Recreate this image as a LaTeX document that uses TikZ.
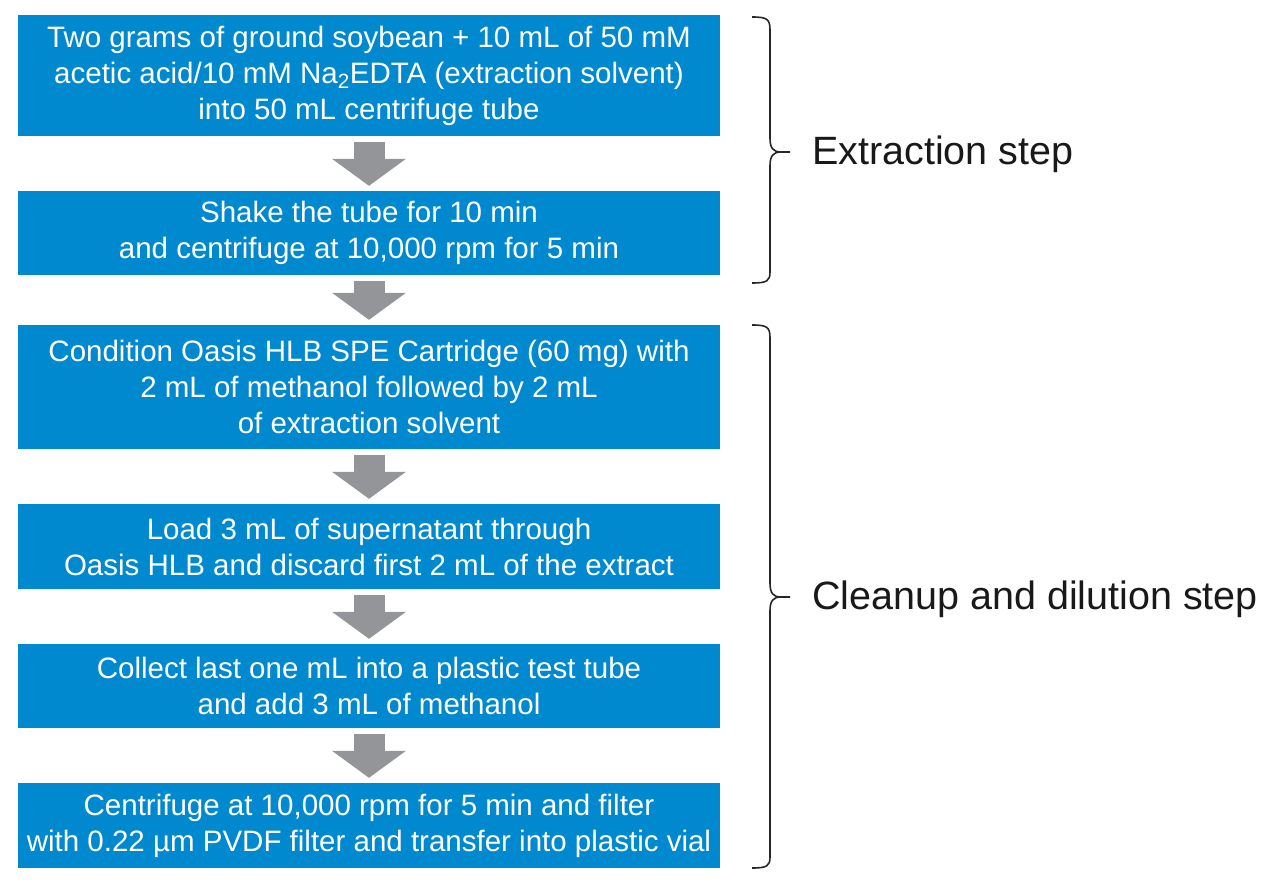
\documentclass[tikz,border=0pt]{standalone}
\usepackage{fontspec}
\setmainfont{Liberation Sans}
\usetikzlibrary{arrows.meta, positioning, calc}
\definecolor{StepBlue}{HTML}{0089CF}
\definecolor{FlowGray}{HTML}{939598}

\begin{document}
\begin{tikzpicture}[x=1pt, y=-1pt,
stepbox/.style={
	rectangle,
	fill=StepBlue,
	minimum width=702pt,
	inner sep=0pt,
	align=center,
	font=\fontsize{29.5}{36}\selectfont,
	text=white},
flow/.style={
	-{Triangle[width=74pt, length=27pt, line width=0pt]},
	line width=31pt,
	color=FlowGray,
	shorten <=6pt,
	shorten >=5pt},
group/.style={
	line width=1.6pt,
	color=black!85},
grouplabel/.style={
	anchor=west,
	inner sep=0pt,
	font=\fontsize{39.5}{44}\selectfont,
	text=black!90}]

\useasboundingbox (0,0) rectangle (1280,885);

%Steps
\node[stepbox, minimum height=121pt] (s1) at (369,75.5) {Two grams of ground soybean + 10 mL of 50 mM\\acetic acid/10 mM Na\textsubscript{2}EDTA (extraction solvent)\\into 50 mL centrifuge tube};
\node[stepbox, minimum height=84pt] (s2) at (369,233) {Shake the tube for 10 min\\and centrifuge at 10,000 rpm for 5 min};
\node[stepbox, minimum height=124pt] (s3) at (369,387) {Condition Oasis HLB SPE Cartridge (60 mg) with\\2 mL of methanol followed by 2 mL\\of extraction solvent};
\node[stepbox, minimum height=85pt] (s4) at (369,546.5) {Load 3 mL of supernatant through\\Oasis HLB and discard first 2 mL of the extract};
\node[stepbox, minimum height=84pt] (s5) at (369,686) {Collect last one mL into a plastic test tube\\and add 3 mL of methanol};
\node[stepbox, minimum height=85pt] (s6) at (369,825.5) {Centrifuge at 10,000 rpm for 5 min and filter\\with 0.22 µm PVDF filter and transfer into plastic vial};

\foreach \i[count=\ii from 2] in {1,...,5}{%arrow from step i to the next
	\draw[flow] (s\i) -- (s\ii);
}

%Braces
\coordinate (e1) at (752,17);
\coordinate (e2) at (752,283);
\coordinate (c1) at (752,325);
\coordinate (c2) at (752,868);

\draw[group] (e1) .. controls (767,17) and (770,19) .. (770,30) -- (770,138)
	.. controls (770,148) and (773,152) .. (781,152) -- (790,152);
\draw[group] (781,152) .. controls (773,152) and (770,156) .. (770,166) -- (770,272)
	.. controls (770,281) and (767,283) .. (e2);

\draw[group] (c1) .. controls (767,325) and (770,327) .. (770,338) -- (770,583)
	.. controls (770,593) and (773,597) .. (781,597) -- (790,597);
\draw[group] (781,597) .. controls (773,597) and (770,601) .. (770,611) -- (770,857)
	.. controls (770,866) and (767,868) .. (c2);

\node[grouplabel] (extract) at (812,154) {Extraction step};
\node[grouplabel] (cleanup) at (812,599) {Cleanup and dilution step};
\end{tikzpicture}
\end{document}
